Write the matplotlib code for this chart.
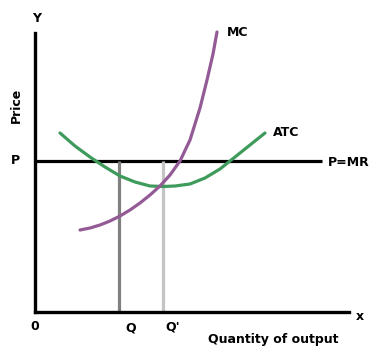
import matplotlib
matplotlib.use("Agg")
import matplotlib.pyplot as plt

# Data (x = quantity, y = price, arbitrary units)
atc_x = [25, 40, 55, 70, 85, 100, 115, 128, 140, 155, 170, 185, 200, 215, 230]
atc_y = [179, 166, 155, 145, 136, 130, 126, 125.5, 126, 128, 134, 143, 155, 167, 179]
mc_x = [45, 55, 65, 75, 85, 95, 105, 115, 125, 135, 145, 155, 165, 172, 178, 182]
mc_y = [82, 84, 87, 91, 96, 102, 109, 117, 126, 137, 151, 172, 204, 232, 258, 280]
price_p = 151
mr_end = 287
q = 84
q_prime = 128

W, H = 372, 353
fig = plt.figure(figsize=(W / 100, H / 100), dpi=100)
fig.patch.set_facecolor("white")
ax = fig.add_axes([35 / W, (H - 312) / H, 314 / W, 279 / H])
ax.set_xlim(0, 314)
ax.set_ylim(0, 279)
ax.set_facecolor("white")
for s in ["top", "right"]:
    ax.spines[s].set_visible(False)
for s in ["left", "bottom"]:
    ax.spines[s].set_linewidth(2.4)
    ax.spines[s].set_color("black")
ax.set_xticks([])
ax.set_yticks([])

lw = 2.3
ax.plot([0, mr_end], [price_p, price_p], color="black", lw=lw, solid_capstyle="butt", clip_on=False)
ax.plot([q, q], [0, price_p], color="#808080", lw=lw, solid_capstyle="butt")
ax.plot([q_prime, q_prime], [0, price_p], color="#c4c4c4", lw=lw, solid_capstyle="butt")
ax.plot(atc_x, atc_y, color="#3f9b5c", lw=lw, solid_capstyle="round", solid_joinstyle="round", clip_on=False)
ax.plot(mc_x, mc_y, color="#935a96", lw=lw, solid_capstyle="round", solid_joinstyle="round", clip_on=False)

fs = 9
kw = dict(fontsize=fs, fontweight="bold", color="black", clip_on=False, family="DejaVu Sans")
ax.text(2, 294, "Y", ha="center", va="center", **kw)
ax.text(-19, 207, "Price", ha="center", va="center", rotation=90, **kw)
ax.text(-20, 152, "P", ha="center", va="center", **kw)
ax.text(0, -14, "0", ha="center", va="center", **kw)
ax.text(q + 12, -16, "Q", ha="center", va="center", **kw)
ax.text(q_prime + 10, -15, "Q'", ha="center", va="center", **kw)
ax.text(325, -4, "x", ha="center", va="center", **kw)
ax.text(238, -27, "Quantity of output", ha="center", va="center", **kw)
ax.text(192, 280, "MC", ha="left", va="center", **kw)
ax.text(238, 180, "ATC", ha="left", va="center", **kw)
ax.text(293, 150, "P=MR", ha="left", va="center", **kw)

fig.savefig("out.png", dpi=100, facecolor="white")
